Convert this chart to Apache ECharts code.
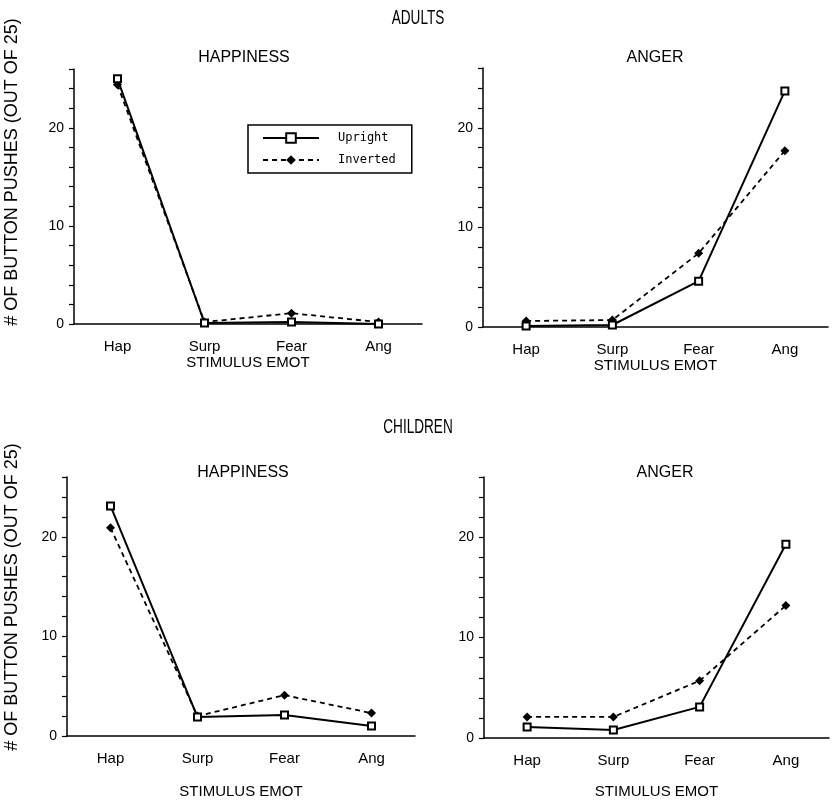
<!DOCTYPE html>
<html>
<head>
<meta charset="utf-8">
<script src="https://cdn.jsdelivr.net/npm/echarts@6/dist/echarts.min.js"></script>
<style>
  html, body { margin: 0; padding: 0; background: #fff; }
  #chart { width: 834px; height: 803px; }
</style>
</head>
<body>
<div id="chart"></div>
<script>
// ---- data ----
const categories = ['Hap', 'Surp', 'Fear', 'Ang'];
const yTickLabels = [0, 10, 20];
const seriesNames = ['Upright', 'Inverted'];

const adultsHappinessUpright   = [25.0, 0.1, 0.2, 0.0];
const adultsHappinessInverted  = [24.4, 0.2, 1.1, 0.2];
const adultsAngerUpright       = [0.1, 0.2, 4.6, 23.7];
const adultsAngerInverted      = [0.6, 0.7, 7.4, 17.7];
const childrenHappinessUpright = [23.1, 1.9, 2.1, 1.0];
const childrenHappinessInverted= [20.9, 2.0, 4.1, 2.3];
const childrenAngerUpright     = [1.1, 0.8, 3.1, 19.3];
const childrenAngerInverted    = [2.1, 2.1, 5.7, 13.2];

const groupTitles = ['ADULTS', 'CHILDREN'];
const panelTitles = ['HAPPINESS', 'ANGER', 'HAPPINESS', 'ANGER'];
const xAxisName = 'STIMULUS EMOT';
const yAxisName = '# OF BUTTON PUSHES (OUT OF 25)';

// ---- layout ----
const FONT = '"Liberation Sans", Arial, Helvetica, sans-serif';
const grids = [
  { left: 74,  top: 69,  width: 348, height: 255 },
  { left: 483, top: 68,  width: 345, height: 259 },
  { left: 67,  top: 477, width: 348, height: 259 },
  { left: 484, top: 477, width: 345, height: 261 }
];
const nameGaps = [30, 30, 48, 46];
const panelData = [
  [adultsHappinessUpright, adultsHappinessInverted],
  [adultsAngerUpright, adultsAngerInverted],
  [childrenHappinessUpright, childrenHappinessInverted],
  [childrenAngerUpright, childrenAngerInverted]
];

const xAxes = grids.map((g, i) => ({
  type: 'category', gridIndex: i, data: categories, boundaryGap: true,
  axisLine: { lineStyle: { color: '#000', width: 1.5 } },
  axisTick: { alignWithLabel: true, length: 5, lineStyle: { color: '#000', width: 1.5 } },
  axisLabel: { color: '#000', fontSize: 15, fontFamily: FONT, margin: 15 },
  name: xAxisName, nameLocation: 'middle', nameGap: nameGaps[i],
  nameTextStyle: { color: '#000', fontSize: 15, fontFamily: FONT },
  splitLine: { show: false }
}));
const yAxes = grids.map((g, i) => ({
  type: 'value', gridIndex: i, min: 0, max: 26, interval: 2,
  axisLine: { show: true, lineStyle: { color: '#000', width: 1.5 } },
  axisTick: { show: true, length: 5, lineStyle: { color: '#000', width: 1.2 } },
  axisLabel: {
    color: '#000', fontSize: 14, fontFamily: FONT, margin: 10,
    formatter: v => (yTickLabels.indexOf(v) >= 0 ? String(v) : '')
  },
  splitLine: { show: false }
}));

const series = [];
panelData.forEach((pair, i) => {
  series.push({
    name: seriesNames[0], type: 'line', xAxisIndex: i, yAxisIndex: i,
    data: pair[0], symbol: 'emptyRect', symbolSize: 7, z: 3,
    itemStyle: { color: '#000', borderWidth: 1.5 },
    lineStyle: { color: '#000', width: 2, type: 'solid' },
    animation: false
  });
  series.push({
    name: seriesNames[1], type: 'line', xAxisIndex: i, yAxisIndex: i,
    data: pair[1], symbol: 'diamond', symbolSize: 9, z: 2,
    itemStyle: { color: '#000' },
    lineStyle: { color: '#000', width: 1.8, type: [5, 4] },
    animation: false
  });
});

const graphics = [];
const txt = (text, x, y, size, rot, sx) => ({
  type: 'text', x: x, y: y, rotation: rot || 0, scaleX: sx || 1, silent: true,
  style: { text: text, fill: '#000', font: size + 'px ' + FONT,
           textAlign: 'center', textVerticalAlign: 'middle' }
});
graphics.push(txt(groupTitles[0], 418, 18, 20, 0, 0.68));
graphics.push(txt(groupTitles[1], 418, 427, 20, 0, 0.68));
graphics.push(txt(panelTitles[0], 244, 58, 16));
graphics.push(txt(panelTitles[1], 655, 58, 16));
graphics.push(txt(panelTitles[2], 243, 473, 16));
graphics.push(txt(panelTitles[3], 665, 473, 16));
graphics.push(txt(yAxisName, 12, 172, 18, Math.PI / 2));
graphics.push(txt(yAxisName, 12, 597, 18, Math.PI / 2));

const option = {
  backgroundColor: '#fff',
  animation: false,
  grid: grids,
  xAxis: xAxes,
  yAxis: yAxes,
  series: series,
  legend: {
    data: seriesNames, orient: 'vertical', left: 248, top: 125,
    itemWidth: 56, itemHeight: 12, itemGap: 10,
    padding: [7, 16, 7, 14],
    borderColor: '#000', borderWidth: 1.5, backgroundColor: '#fff',
    selectedMode: false,
    textStyle: { color: '#000', fontSize: 12, fontFamily: '"DejaVu Sans Mono", monospace', padding: [0, 0, 0, 14] }
  },
  graphic: graphics
};

const chart = echarts.init(document.getElementById('chart'), null, { renderer: 'canvas' });
chart.setOption(option);
</script>
</body>
</html>
